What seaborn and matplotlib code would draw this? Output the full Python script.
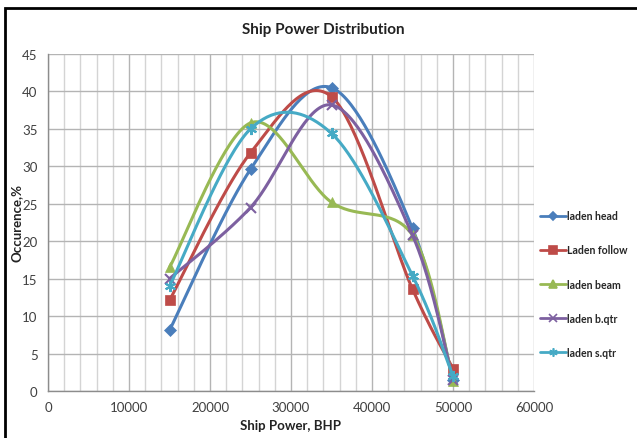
import numpy as np
import pandas as pd
import matplotlib
matplotlib.use("Agg")
import matplotlib.pyplot as plt
from matplotlib.lines import Line2D
from matplotlib.patches import Rectangle
import seaborn as sns

# Ship power (BHP) and occurrence (%) per heading condition
power = [15000, 25000, 35000, 45000, 50000]
laden_head = [8.1, 29.6, 40.5, 21.7, 1.5]
laden_follow = [12.1, 31.8, 39.3, 13.6, 3.0]
laden_beam = [16.5, 35.8, 25.2, 20.8, 1.3]
laden_bqtr = [15.0, 24.5, 38.2, 20.8, 1.5]
laden_sqtr = [14.0, 35.0, 34.4, 15.4, 2.0]

series_names = ["laden head", "Laden follow", "laden beam", "laden b.qtr", "laden s.qtr"]
series_values = [laden_head, laden_follow, laden_beam, laden_bqtr, laden_sqtr]
colors = ["#4A7EBB", "#BE4B48", "#98B954", "#7D60A0", "#46AAC5"]
markers = ["D", "s", "^", "x", (6, 2, 0)]
msizes = [6, 7.5, 7, 7, 8]


def smooth(x, y, n=40):
    """Cubic Bezier smoothing through the points (Catmull-Rom style)."""
    x = np.asarray(x, float)
    y = np.asarray(y, float)
    P = np.column_stack([x, y])
    out = []
    for i in range(len(P) - 1):
        p0 = P[i - 1] if i > 0 else P[i]
        p1 = P[i]
        p2 = P[i + 1]
        p3 = P[i + 2] if i + 2 < len(P) else P[i + 1]
        c1 = p1 + (p2 - p0) / 6.0
        c2 = p2 - (p3 - p1) / 6.0
        t = np.linspace(0, 1, n)[:, None]
        seg = ((1 - t) ** 3) * p1 + 3 * ((1 - t) ** 2) * t * c1 + 3 * (1 - t) * t ** 2 * c2 + t ** 3 * p2
        out.append(seg if i == 0 else seg[1:])
    s = np.vstack(out)
    return s[:, 0], s[:, 1]


sns.set_style("white")
plt.rcParams["font.family"] = ["Lato", "DejaVu Sans"]

fig = plt.figure(figsize=(6.37, 4.39), dpi=100)
ax = fig.add_axes([48 / 637, 1 - 392 / 439, (534 - 48) / 637, (392 - 55) / 439])

# Grid
ax.set_xlim(0, 60000)
ax.set_ylim(0, 45)
ax.set_xticks(np.arange(0, 60001, 10000))
ax.set_xticks(np.arange(0, 60001, 2000), minor=True)
ax.set_yticks(np.arange(0, 46, 5))
ax.grid(True, which="major", axis="both", color="#B4B4B4", linewidth=1.0)
ax.grid(True, which="minor", axis="x", color="#D4D4D4", linewidth=1.0)
ax.set_axisbelow(True)

for name, vals, c, m, ms in zip(series_names, series_values, colors, markers, msizes):
    sx, sy = smooth(power, vals)
    df_line = pd.DataFrame({"x": sx, "y": sy})
    sns.lineplot(data=df_line, x="x", y="y", ax=ax, color=c, linewidth=2.2,
                 sort=False, estimator=None)
    ax.plot(power, vals, linestyle="none", marker=m, color=c, markersize=ms,
            markeredgewidth=1.5 if m in ("x",) or isinstance(m, tuple) else 0.5,
            markeredgecolor=c)

for s in ["top", "right"]:
    ax.spines[s].set_visible(False)
for s in ["left", "bottom"]:
    ax.spines[s].set_color("#8C8C8C")
    ax.spines[s].set_linewidth(1.0)
ax.tick_params(axis="both", which="major", direction="out", length=4, width=1,
               color="#8C8C8C", labelsize=9.5, labelcolor="#404040")
ax.tick_params(axis="both", which="minor", length=0)

ax.set_xlabel("Ship Power, BHP", fontsize=9.5, fontweight="bold", color="#222222", labelpad=4)
ax.set_ylabel("Occurence,%", fontsize=9.5, fontweight="bold", color="#222222", labelpad=1)
ax.yaxis.set_label_coords(-0.052, 0.5)

fig.text(323 / 637, 1 - 30 / 439, "Ship Power Distribution", ha="center", va="center",
         fontsize=11, fontweight="bold", color="#222222")

handles = [Line2D([0], [0], color=c, marker=m, markersize=ms * 0.75, linewidth=2,
                  markeredgewidth=1.2, markeredgecolor=c)
           for c, m, ms in zip(colors, markers, msizes)]
fig.legend(handles, series_names, loc="upper left", bbox_to_anchor=(536 / 637, 1 - 207 / 439),
           frameon=False, handlelength=2.4, handletextpad=0.15,
           labelspacing=2.2, borderaxespad=0, prop={"weight": "bold", "size": 7.6})

# Chart-area border
fig.patches.append(Rectangle((5 / 637, -0.05), 1.1, 1 - 9 / 439 + 0.05,
                             transform=fig.transFigure, fill=False,
                             edgecolor="black", linewidth=2))

fig.savefig("out.png", dpi=100)
